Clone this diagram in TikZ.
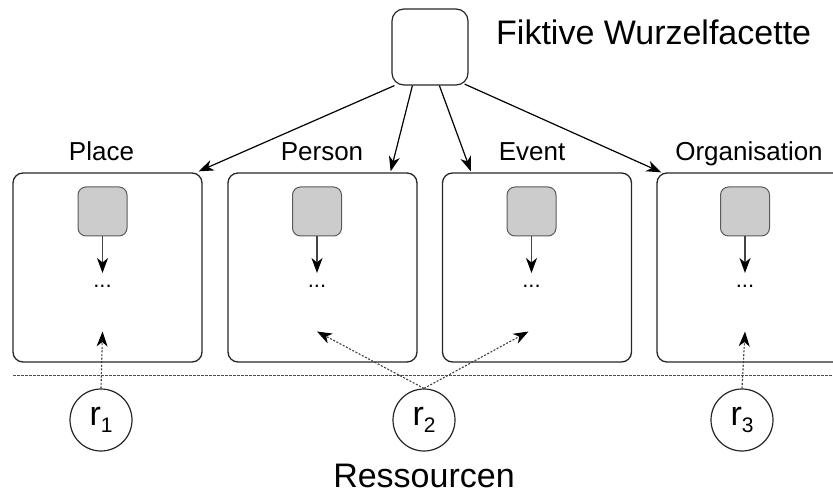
\documentclass[tikz,border=0pt]{standalone}
\usepackage{fontspec}
\setmainfont{Liberation Sans}
\usetikzlibrary{arrows.meta,calc}

\definecolor{facetgray}{HTML}{CCCCCC}
\definecolor{facetedge}{HTML}{5A5A5A}
\definecolor{linkgray}{HTML}{444444}

\tikzset{
  facetbox/.style={draw=black!85, line width=1.3pt, rounded corners=10pt,
    minimum width=189pt, minimum height=189pt, inner sep=0pt},
  rootbox/.style={draw=black!85, line width=1.2pt, rounded corners=12pt,
    minimum width=76pt, minimum height=76pt, inner sep=0pt},
  subfacet/.style={draw=facetedge, line width=1pt, fill=facetgray, rounded corners=8pt,
    minimum width=49pt, minimum height=49pt, inner sep=0pt},
  resnode/.style={draw=black!85, line width=1.2pt, circle, minimum size=62pt, inner sep=0pt},
  facetlabel/.style={anchor=base, inner sep=0pt, font=\fontsize{26}{28}\selectfont},
  dotslabel/.style={inner sep=0pt, font=\fontsize{22}{24}\selectfont},
  tree/.style={line width=1.2pt, -{Stealth[length=15pt,width=11pt,inset=4.5pt]}},
  subtree/.style={draw=linkgray, line width=1.1pt, -{Stealth[length=15pt,width=11pt,inset=4.5pt,fill=black,color=black]}},
  assign/.style={draw=black!75, line width=1.1pt, dash pattern=on 2pt off 1.6pt,
    -{Stealth[length=15pt,width=11pt,inset=4.5pt,fill=black,color=black]}},
  divider/.style={draw=black!70, line width=1pt, dash pattern=on 2.5pt off 1.5pt},
}

\newcommand{\resname}[1]{r\raisebox{-7pt}{\fontsize{21}{21}\selectfont #1}}

\begin{document}
\begin{tikzpicture}[x=1pt,y=-1pt]
  \useasboundingbox (0,0) rectangle (833,494);
  \clip (0,0) rectangle (833,494);

  % fictitious root facet
  \node[rootbox] (root) at (430,47) {};
  \node[anchor=base west, inner sep=0pt, font=\fontsize{34}{36}\selectfont]
    (roottext) at (496,44.5) {Fiktive Wurzelfacette};

  % top-level facets
  \node[facetbox] (place) at (107.5,267.5) {};
  \node[facetbox] (person) at (322.5,267.5) {};
  \node[facetbox] (event) at (537,267.5) {};
  \node[facetbox] (org) at (751.5,267.5) {};

  \node[facetlabel] (placelbl) at (101.5,160.5) {Place};
  \node[facetlabel] (personlbl) at (322,160.5) {Person};
  \node[facetlabel] (eventlbl) at (532,160.5) {Event};
  \node[facetlabel] (orglbl) at (749,160.5) {Organisation};

  % sub-facets with continuation dots
  \foreach \f/\x in {place/102.5, person/317, event/531.5, org/745} {
    \node[subfacet] (\f sub) at (\x,211.5) {};
    \node[dotslabel] (\f dots) at (\x,286.5) {...};
    \coordinate (\f tip) at (\x,273);
    \coordinate (\f in) at (\x,331.5);
    \draw[subtree] (\f sub.south) -- (\f tip);
  }

  % edges from the root
  \coordinate (r0) at ($(root.south west)+(3,0)$);
  \coordinate (r1s) at ($(root.south west)+(21,0)$);
  \coordinate (r2s) at ($(root.south west)+(48,0)$);
  \coordinate (r3s) at ($(root.south east)+(-4,-1.5)$);
  \draw[tree] (r0) -- ($(place.north east)+(-4,-1)$);
  \draw[tree] (r1s) -- ($(person.north east)+(-27,-1)$);
  \draw[tree] (r2s) -- ($(event.north west)+(29,-1)$);
  \draw[tree] (r3s) -- ($(org.north west)+(5,0)$);

  % separator between facets and resources
  \coordinate (divl) at (13,376);
  \coordinate (divr) at (833,376);
  \draw[divider] (divl) -- (divr);

  % resources
  \node[resnode, font=\fontsize{34}{34}\selectfont] (res1) at (101,420) {\resname{1}};
  \node[resnode, font=\fontsize{34}{34}\selectfont] (res2) at (424,420) {\resname{2}};
  \node[resnode, font=\fontsize{34}{34}\selectfont] (res3) at (742,420) {\resname{3}};

  \draw[assign] (res1.north) -- (placein);
  \draw[assign] (res2.north) -- (personin);
  \draw[assign] (res2.north) -- ($(eventin)+(-3,0)$);
  \draw[assign] (res3.north) -- (orgin);

  \node[anchor=base, inner sep=0pt, font=\fontsize{34}{36}\selectfont]
    (reslbl) at (424,487) {Ressourcen};
\end{tikzpicture}
\end{document}
